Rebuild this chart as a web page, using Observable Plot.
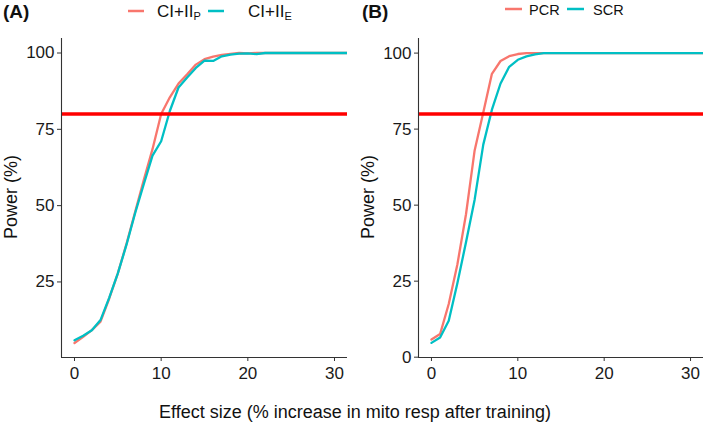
<!DOCTYPE html>
<html><head><meta charset="utf-8">
<script src="https://cdn.jsdelivr.net/npm/d3@7"></script>
<script src="https://cdn.jsdelivr.net/npm/@observablehq/plot@0.6"></script>
<style>
body{margin:0;background:#fff;}
#wrap{position:relative;width:709px;height:426px;overflow:hidden;font-family:"Liberation Sans",Arial,sans-serif;}
#wrap > svg{position:absolute;}
</style></head><body><div id="wrap"></div>
<script>
// ---- data ----
const effectSize = [0,1,2,3,4,5,6,7,8,9,10,11,12,13,14,15,16,17,18,19,20,21,22,23,24,25,26,27,28,29,30,31,32];
const ciiiP = [5.0,7.0,9.2,12.0,19.5,27.8,37.5,48.0,58.5,68.5,80.0,85.5,90.0,93.0,96.2,98.0,98.8,99.4,99.7,100,99.9,100,100,100,100,100,100,100,100,100,100,100,100];
const ciiiE = [5.9,7.4,9.2,12.5,19.8,27.8,37.2,47.6,57.1,66.4,71.1,81.0,88.7,92.0,95.1,97.5,97.4,98.9,99.5,99.8,99.9,99.6,100,100,100,100,100,100,100,100,100,100,100];
const pcr = [5.8,7.6,17.5,30.5,47.0,68.0,80.5,93.2,97.4,99.0,99.7,100,100,100,100,100,100,100,100,100,100,100,100,100,100,100,100,100,100,100,100,100,100];
const scr = [4.7,6.5,12.0,24.3,37.8,51.8,69.9,81.4,90.0,95.5,97.8,98.9,99.6,100,100,100,100,100,100,100,100,100,100,100,100,100,100,100,100,100,100,100,100];
const seriesA = ["CI+II_P", "CI+II_E"];
const seriesB = ["PCR", "SCR"];
const colors = ["#F8766D", "#00BFC4"];
const xTicks = [0, 10, 20, 30];
const yTicksA = [25, 50, 75, 100];
const yTicksB = [0, 25, 50, 75, 100];
const threshold = 80;
const panelLabels = ["(A)", "(B)"];
const yTitle = "Power (%)";
const xTitle = "Effect size (% increase in mito resp after training)";

// ---- build ----
const rowsA = [
  ...effectSize.map((x, i) => ({x, y: ciiiP[i], s: seriesA[0]})),
  ...effectSize.map((x, i) => ({x, y: ciiiE[i], s: seriesA[1]}))
];
const rowsB = [
  ...effectSize.map((x, i) => ({x, y: pcr[i], s: seriesB[0]})),
  ...effectSize.map((x, i) => ({x, y: scr[i], s: seriesB[1]}))
];
const xDomain = [-1.5, 31.5];
const FONT = '"Liberation Sans", Arial, sans-serif';

function panel(rows, series, yDomain, yTicks, width, marginLeft, marginRight) {
  return Plot.plot({
    width, height: 387,
    marginLeft, marginRight, marginTop: 38, marginBottom: 30,
    x: {domain: xDomain},
    y: {domain: yDomain},
    color: {domain: series, range: colors},
    style: {fontFamily: FONT, fontSize: "17px", color: "#1a1a1a", background: "transparent", overflow: "visible"},
    marks: [
      Plot.line(rows, {x: "x", y: "y", z: "s", stroke: "s", strokeWidth: 2.3, clip: true}),
      Plot.ruleY([threshold], {stroke: "#FF0000", strokeWidth: 3.5}),
      Plot.ruleX([xDomain[0]], {stroke: "#333", strokeWidth: 1.1}),
      Plot.ruleY([yDomain[0]], {stroke: "#333", strokeWidth: 1.1}),
      Plot.axisX({ticks: xTicks, tickSize: 4, tickPadding: 5, label: null, stroke: "#333"}),
      Plot.axisY({ticks: yTicks, tickSize: 4, tickPadding: 3, label: null, stroke: "#333"})
    ]
  });
}

const wrap = document.getElementById("wrap");
const pA = panel(rowsA, seriesA, [0.25, 104.75], yTicksA, 355, 61, 8);
pA.style.left = "0px"; pA.style.top = "0px";
const pB = panel(rowsB, seriesB, [-0.1, 104.8], yTicksB, 353, 62, 6);
pB.style.left = "356px"; pB.style.top = "0px";
wrap.appendChild(pA);
wrap.appendChild(pB);

// ---- annotations (titles + legends) ----
const ns = "http://www.w3.org/2000/svg";
const ov = d3.select(wrap).append("svg")
  .attr("width", 709).attr("height", 426)
  .style("left", "0px").style("top", "0px")
  .style("font-family", FONT).style("fill", "#111");

ov.append("text").attr("x", 3).attr("y", 18).attr("font-size", 19).attr("font-weight", "bold").text(panelLabels[0]);
ov.append("text").attr("x", 362).attr("y", 18).attr("font-size", 19).attr("font-weight", "bold").text(panelLabels[1]);

ov.append("text").attr("transform", "translate(17,197) rotate(-90)").attr("text-anchor", "middle").attr("font-size", 18).text(yTitle);
ov.append("text").attr("transform", "translate(374,197) rotate(-90)").attr("text-anchor", "middle").attr("font-size", 18).text(yTitle);

ov.append("text").attr("x", 355).attr("y", 418).attr("text-anchor", "middle").attr("font-size", 18).text(xTitle);

// legend A
const legA = [{x0: 128, tx: 157, color: colors[0], main: "CI+II", sub: "P"}, {x0: 208, tx: 248, color: colors[1], main: "CI+II", sub: "E"}];
legA.forEach(d => {
  ov.append("line").attr("x1", d.x0).attr("x2", d.x0 + 16).attr("y1", 11).attr("y2", 11).attr("stroke", d.color).attr("stroke-width", 2.5);
  const t = ov.append("text").attr("x", d.tx).attr("y", 17).attr("font-size", 17);
  t.append("tspan").text(d.main);
  t.append("tspan").attr("font-size", 11).attr("dy", 3).text(d.sub);
});
// legend B
const legB = [{x0: 505, tx: 529, color: colors[0], label: seriesB[0]}, {x0: 567, tx: 593, color: colors[1], label: seriesB[1]}];
legB.forEach(d => {
  ov.append("line").attr("x1", d.x0).attr("x2", d.x0 + 17).attr("y1", 9).attr("y2", 9).attr("stroke", d.color).attr("stroke-width", 2.5);
  ov.append("text").attr("x", d.tx).attr("y", 15).attr("font-size", 14.5).text(d.label);
});
</script>
</body></html>
